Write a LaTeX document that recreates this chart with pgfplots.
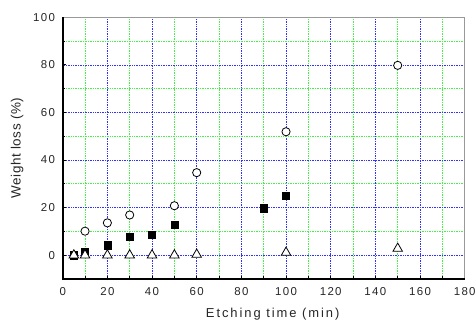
\documentclass[border=0pt]{standalone}
\usepackage{fontspec}
\setmainfont{Liberation Sans}
\newfontfamily\tickfont{Liberation Sans}[LetterSpace=12]
\newfontfamily\labfont{Liberation Sans}[LetterSpace=15]
\newfontfamily\ylabfont{Liberation Sans}[LetterSpace=4]
\usepackage{pgfplots}
\pgfplotsset{compat=1.18}
\definecolor{gridblue}{RGB}{50,50,255}
\definecolor{gridgreen}{RGB}{70,240,70}
\begin{document}
\begin{tikzpicture}
\begin{axis}[
  scale only axis,
  width=402bp, height=261.7bp,
  xmin=0, xmax=180, ymin=-10, ymax=100,
  xtick={0,20,...,180}, ytick={0,20,...,100},
  minor xtick={10,30,...,170}, minor ytick={-10,10,...,90},
  grid=both,
  major grid style={gridblue, line width=0.75pt, dash pattern=on 0.8pt off 0.9pt},
  minor grid style={gridgreen, line width=0.75pt, dash pattern=on 0.8pt off 0.9pt},
  tick align=inside,
  xtick pos=left, ytick pos=left,
  major tick length=3bp, minor tick length=2.5bp,
  tick style={black, line width=0.8pt},
  axis line style={gray!80, line width=1.2pt},
  /pgf/number format/assume math mode=true,
  tick label style={font=\fontsize{11.5}{13}\tickfont, inner sep=0pt, text=black!85},
  yticklabel style={xshift=-7.5bp},
  xticklabel style={yshift=-8.5bp},
  xlabel={Etching time (min)},
  ylabel={Weight loss (\%)},
  xlabel style={font=\fontsize{13}{15}\labfont, at={(rel axis cs:0.5,0)}, anchor=center, xshift=9bp, yshift=-35bp, text=black!85},
  ylabel style={font=\fontsize{13.5}{15}\ylabfont, at={(rel axis cs:0,0.5)}, anchor=center, yshift=45.5bp, text=black!85},
  clip=false,
]
\draw[black, line width=1.8pt] (rel axis cs:0,1) -- (rel axis cs:0,0) -- (rel axis cs:1,0);
% squares
\addplot[only marks, mark=square*, mark size=3.6bp, black] coordinates {
  (5,0) (10,1.5) (20,4.2) (30,7.8) (40,8.5) (50,12.8) (90,19.8) (100,24.9)
};
% circles
\addplot[only marks, mark=*, mark size=4.1bp, draw=black, fill=white, line width=0.8pt] coordinates {
  (10,10.1) (20,13.6) (30,16.9) (50,20.8) (60,34.7) (100,51.9) (150,79.8)
};
% triangles
\addplot[only marks, mark=triangle*, mark size=5.5bp, draw=black, fill=white, line width=0.8pt] coordinates {
  (5,0) (10,0) (20,0) (30,0) (40,0) (50,0) (60,0.3) (100,1.1) (150,2.8)
};
\end{axis}
\pgfresetboundingbox
\path ([shift={(-62.7bp,-44bp)}]current axis.south west) rectangle ([shift={(11.3bp,17.3bp)}]current axis.north east);
\end{tikzpicture}
\end{document}
